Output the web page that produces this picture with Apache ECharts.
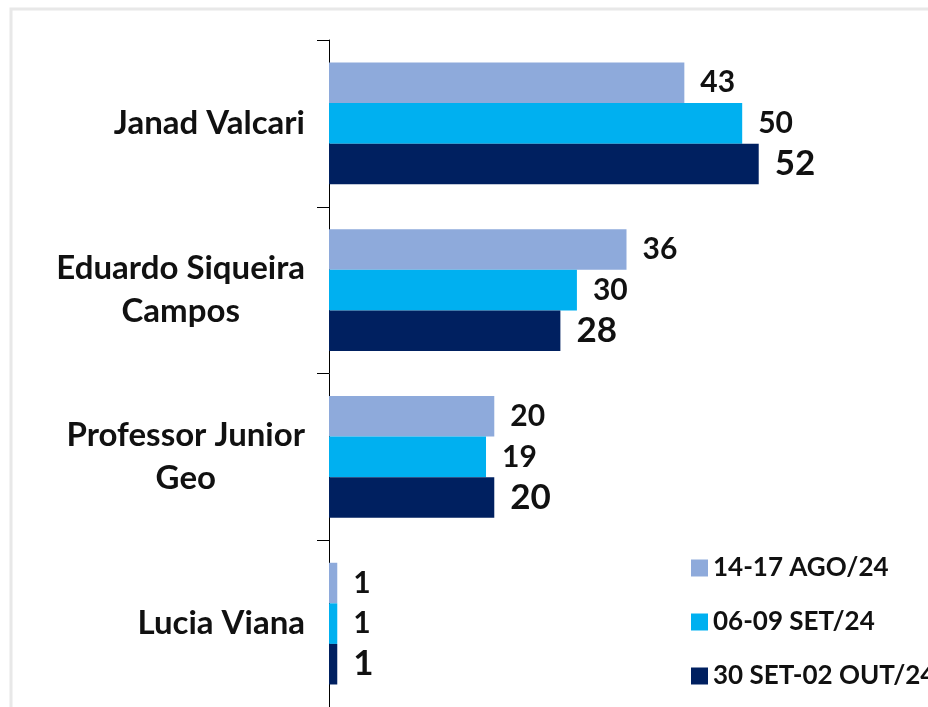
<!DOCTYPE html>
<html>
<head>
<meta charset="utf-8">
<script src="https://cdn.jsdelivr.net/npm/echarts@6/dist/echarts.min.js"></script>
<style>
  html, body { margin: 0; padding: 0; background: #fff; }
  #chart { width: 928px; height: 707px; }
</style>
</head>
<body>
<div id="chart"></div>
<script>
// candidates, top to bottom
const categories = ['Janad Valcari', 'Eduardo Siqueira\nCampos', 'Professor Junior\nGeo', 'Lucia Viana']
const seriesNames = ['14-17 AGO/24', '06-09 SET/24', '30 SET-02 OUT/24']
const agoValues = [43, 36, 20, 1]
const setValues = [50, 30, 19, 1]
const outValues = [52, 28, 20, 1]

const colors = ['#8eaadb', '#00b0f0', '#002060']
const font = 'Lato, "Open Sans", sans-serif'

function makeSeries(name, data, color, labelSize) {
  return {
    name: name,
    type: 'bar',
    data: data,
    barGap: 0,
    barCategoryGap: '27%',
    itemStyle: { color: color },
    label: {
      show: true,
      position: 'right',
      distance: 16,
      color: '#111',
      fontFamily: font,
      fontWeight: 'bold',
      fontSize: labelSize
    }
  }
}

const chart = echarts.init(document.getElementById('chart'))
chart.setOption({
  animation: false,
  graphic: [{
    type: 'rect',
    shape: { x: 11, y: 9, width: 1000, height: 1000 },
    style: { fill: 'none', stroke: '#e8e8e8', lineWidth: 3 },
    silent: true
  }],
  grid: {
    left: 329,
    top: 40,
    width: 595,
    height: 672
  },
  legend: {
    orient: 'vertical',
    left: 686,
    top: 550,
    itemWidth: 17,
    itemHeight: 17,
    itemGap: 28,
    itemTextGap: 8,
    icon: 'rect',
    textStyle: {
      color: '#111',
      fontFamily: font,
      fontWeight: 'bold',
      fontSize: 26,
      lineHeight: 25
    },
    data: seriesNames
  },
  xAxis: {
    type: 'value',
    min: 0,
    max: 72,
    show: false
  },
  yAxis: {
    type: 'category',
    inverse: true,
    data: categories,
    axisLine: { lineStyle: { color: '#000', width: 1 } },
    axisTick: { show: true, length: 12, lineStyle: { color: '#000' } },
    axisLabel: {
      margin: 24,
      align: 'right',
      formatter: function (v) {
        return v.split('\n').map(function (s) { return '{a|' + s + '}' }).join('\n')
      },
      rich: {
        a: {
          color: '#111',
          fontFamily: font,
          fontWeight: 'bold',
          fontSize: 33,
          lineHeight: 43,
          align: 'center'
        }
      }
    }
  },
  series: [
    makeSeries(seriesNames[0], agoValues, colors[0], 30),
    makeSeries(seriesNames[1], setValues, colors[1], 30),
    makeSeries(seriesNames[2], outValues, colors[2], 35)
  ]
})
</script>
</body>
</html>
